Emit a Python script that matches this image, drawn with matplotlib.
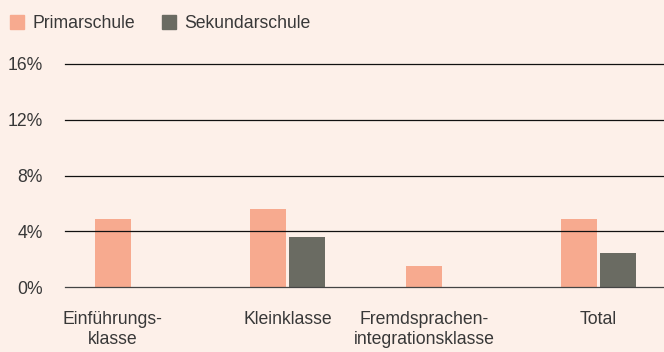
import matplotlib.pyplot as plt
import numpy as np
from matplotlib.patches import Patch

# Anteile in Prozent je Klassentyp
categories = ["Einführungs-\nklasse", "Kleinklasse", "Fremdsprachen-\nintegrationsklasse", "Total"]
primar = [4.87, 5.59, 1.5, 4.87]
sekundar = [None, 3.58, None, 2.44]
y_ticks = [0, 4, 8, 12, 16]

BG = "#fdf0e9"
C_PRIMAR = "#f7aa8f"
C_SEKUNDAR = "#6a6b62"
TXT = "#383838"
FS = 12.7

plt.rcParams["font.family"] = ["Liberation Sans", "DejaVu Sans"]

fig = plt.figure(figsize=(6.64, 3.52), dpi=100, facecolor=BG)
ax = fig.add_axes([65 / 664, 65 / 352, 599 / 664, 223 / 352], facecolor=BG)

x = np.arange(len(categories))
width = 0.232
off = 0.124

for i in x:
    ax.bar(i - off, primar[i], width, color=C_PRIMAR, zorder=1)
    if sekundar[i] is not None:
        ax.bar(i + off, sekundar[i], width, color=C_SEKUNDAR, zorder=1)

for t in y_ticks:
    ax.axhline(t, color="#111111" if t else "#444444", lw=0.9, zorder=2, clip_on=False)

ax.set_xlim(-0.431, 3.42)
ax.set_ylim(0, 16)
ax.set_yticks(y_ticks)
ax.set_yticklabels([f"{t}%" for t in y_ticks], fontsize=FS, color=TXT)
ax.tick_params(axis="y", length=0, pad=16)
ax.set_xticks([])
for s in ax.spines.values():
    s.set_visible(False)

# Beschriftung mittig über den vorhandenen Balken
for i, lab in enumerate(categories):
    xpos = i - off if sekundar[i] is None else i
    ax.text(xpos, -1.75, lab, ha="center", va="top", fontsize=FS,
            color=TXT, linespacing=1.2)

handles = [Patch(color=C_PRIMAR, label="Primarschule"),
           Patch(color=C_SEKUNDAR, label="Sekundarschule")]
fig.legend(handles=handles, loc="upper left", bbox_to_anchor=(-0.008, 1.0),
           ncol=2, frameon=False, fontsize=FS, handlelength=0.8,
           handleheight=0.8, handletextpad=0.5, columnspacing=1.5,
           labelcolor=TXT, borderaxespad=0.45)

fig.savefig("out.png", dpi=100, facecolor=BG)
